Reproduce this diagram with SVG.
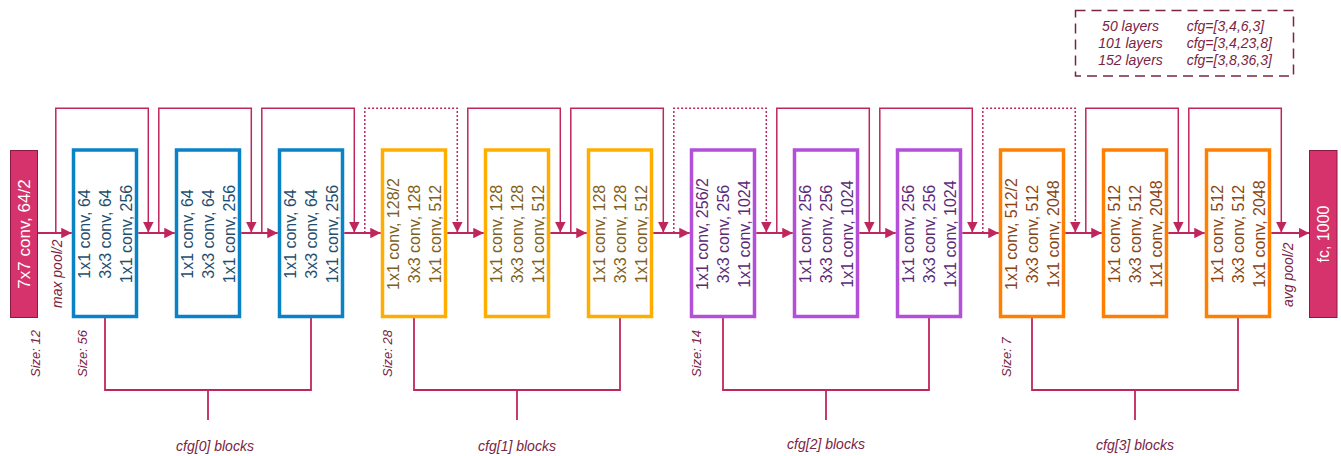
<svg xmlns="http://www.w3.org/2000/svg" width="1341" height="456" viewBox="0 0 1341 456">
<defs>
<marker id="ah" viewBox="0 0 10 10" markerWidth="10.5" markerHeight="10.5" refX="10" refY="5" orient="auto" markerUnits="userSpaceOnUse">
<path d="M0,0 L10,5 L0,10 z" fill="#c0265e"/>
</marker>
<style>
.bg{fill:#ffffff}
.main{fill:none;stroke:#c0265e;stroke-width:1.8}
.skip{fill:none;stroke:#c0265e;stroke-width:1.5}
.dot{fill:none;stroke:#c0265e;stroke-width:1.5;stroke-dasharray:2 2}
.br{fill:none;stroke:#c0265e;stroke-width:1.8}
.red{fill:#d6336c;stroke:#8a1c44;stroke-width:1}
.wt{font-family:"Liberation Sans",Arial,sans-serif;fill:#ffffff;text-anchor:middle}
.blk{fill:#ffffff;stroke-width:3.5}
.bt{font-family:"Liberation Sans",Arial,sans-serif;font-size:16px;text-anchor:middle}
.b1 rect{stroke:#0a83c6}.b1 text{fill:#1f4e6e}
.b2 rect{stroke:#ffae00}.b2 text{fill:#7f6020}
.b3 rect{stroke:#b34fd8}.b3 text{fill:#5b2b78}
.b4 rect{stroke:#ff7f00}.b4 text{fill:#8b4513}
.lab{font-family:"Liberation Sans",Arial,sans-serif;font-style:italic;fill:#7a2443}
.sz{font-size:13px}
.pl{font-size:14px}
.cf{font-size:14px;text-anchor:middle}
.lg{font-size:14px}
</style>
</defs>
<rect class="bg" x="0" y="0" width="1341" height="456"/>

<g id="connectors">
<path class="main" d="M38 233 H71.75" marker-end="url(#ah)"/>
<path class="main" d="M138.25 233 H174.75" marker-end="url(#ah)"/>
<path class="main" d="M241.25 233 H277.75" marker-end="url(#ah)"/>
<path class="main" d="M344.25 233 H380.75" marker-end="url(#ah)"/>
<path class="main" d="M447.25 233 H483.75" marker-end="url(#ah)"/>
<path class="main" d="M550.25 233 H586.75" marker-end="url(#ah)"/>
<path class="main" d="M653.25 233 H689.75" marker-end="url(#ah)"/>
<path class="main" d="M756.25 233 H792.75" marker-end="url(#ah)"/>
<path class="main" d="M859.25 233 H895.75" marker-end="url(#ah)"/>
<path class="main" d="M962.25 233 H998.75" marker-end="url(#ah)"/>
<path class="main" d="M1065.25 233 H1101.75" marker-end="url(#ah)"/>
<path class="main" d="M1168.25 233 H1204.75" marker-end="url(#ah)"/>
<path class="main" d="M1271.25 233 H1309.25" marker-end="url(#ah)"/>

<path class="skip" d="M55.8 233 V108.3 H148.3 V232.5" marker-end="url(#ah)"/>
<path class="skip" d="M158.8 233 V108.3 H251.3 V232.5" marker-end="url(#ah)"/>
<path class="skip" d="M261.8 233 V108.3 H354.3 V232.5" marker-end="url(#ah)"/>
<path class="dot" d="M364.8 233 V108.3 H457.3 V232.5" marker-end="url(#ah)"/>
<path class="skip" d="M467.8 233 V108.3 H560.3 V232.5" marker-end="url(#ah)"/>
<path class="skip" d="M570.8 233 V108.3 H663.3 V232.5" marker-end="url(#ah)"/>
<path class="dot" d="M673.8 233 V108.3 H766.3 V232.5" marker-end="url(#ah)"/>
<path class="skip" d="M776.8 233 V108.3 H869.3 V232.5" marker-end="url(#ah)"/>
<path class="skip" d="M879.8 233 V108.3 H972.3 V232.5" marker-end="url(#ah)"/>
<path class="dot" d="M982.8 233 V108.3 H1075.3 V232.5" marker-end="url(#ah)"/>
<path class="skip" d="M1085.8 233 V108.3 H1178.3 V232.5" marker-end="url(#ah)"/>
<path class="skip" d="M1188.8 233 V108.3 H1281.3 V232.5" marker-end="url(#ah)"/>

<path class="br" d="M105 318 V390 H311 V318 M208 390 V420"/>
<path class="br" d="M414 318 V390 H620 V318 M517 390 V420"/>
<path class="br" d="M723 318 V390 H929 V318 M826 390 V420"/>
<path class="br" d="M1032 318 V390 H1238 V318 M1135 390 V420"/>
</g>

<g id="conv7">
<rect class="red" x="10.5" y="150.5" width="27" height="167"/>
<text class="wt" font-size="17" transform="translate(29.5 234) rotate(-90)">7x7 conv, 64/2</text>
</g>

<g id="fc">
<rect class="red" x="1309.5" y="150.5" width="27.5" height="167"/>
<text class="wt" font-size="16" transform="translate(1329 234) rotate(-90)">fc, 1000</text>
</g>

<g id="block1" class="b1">
<rect class="blk" x="73.5" y="150" width="63" height="166.5"/>
<text class="bt" transform="translate(90 234) rotate(-90)">1x1 conv, 64</text>
<text class="bt" transform="translate(111 234) rotate(-90)">3x3 conv, 64</text>
<text class="bt" transform="translate(132 234) rotate(-90)">1x1 conv, 256</text>
</g>
<g id="block2" class="b1">
<rect class="blk" x="176.5" y="150" width="63" height="166.5"/>
<text class="bt" transform="translate(193 234) rotate(-90)">1x1 conv, 64</text>
<text class="bt" transform="translate(214 234) rotate(-90)">3x3 conv, 64</text>
<text class="bt" transform="translate(235 234) rotate(-90)">1x1 conv, 256</text>
</g>
<g id="block3" class="b1">
<rect class="blk" x="279.5" y="150" width="63" height="166.5"/>
<text class="bt" transform="translate(296 234) rotate(-90)">1x1 conv, 64</text>
<text class="bt" transform="translate(317 234) rotate(-90)">3x3 conv, 64</text>
<text class="bt" transform="translate(338 234) rotate(-90)">1x1 conv, 256</text>
</g>
<g id="block4" class="b2">
<rect class="blk" x="382.5" y="150" width="63" height="166.5"/>
<text class="bt" transform="translate(399 234) rotate(-90)">1x1 conv, 128/2</text>
<text class="bt" transform="translate(420 234) rotate(-90)">3x3 conv, 128</text>
<text class="bt" transform="translate(441 234) rotate(-90)">1x1 conv, 512</text>
</g>
<g id="block5" class="b2">
<rect class="blk" x="485.5" y="150" width="63" height="166.5"/>
<text class="bt" transform="translate(502 234) rotate(-90)">1x1 conv, 128</text>
<text class="bt" transform="translate(523 234) rotate(-90)">3x3 conv, 128</text>
<text class="bt" transform="translate(544 234) rotate(-90)">1x1 conv, 512</text>
</g>
<g id="block6" class="b2">
<rect class="blk" x="588.5" y="150" width="63" height="166.5"/>
<text class="bt" transform="translate(605 234) rotate(-90)">1x1 conv, 128</text>
<text class="bt" transform="translate(626 234) rotate(-90)">3x3 conv, 128</text>
<text class="bt" transform="translate(647 234) rotate(-90)">1x1 conv, 512</text>
</g>
<g id="block7" class="b3">
<rect class="blk" x="691.5" y="150" width="63" height="166.5"/>
<text class="bt" transform="translate(708 234) rotate(-90)">1x1 conv, 256/2</text>
<text class="bt" transform="translate(729 234) rotate(-90)">3x3 conv, 256</text>
<text class="bt" transform="translate(750 234) rotate(-90)">1x1 conv, 1024</text>
</g>
<g id="block8" class="b3">
<rect class="blk" x="794.5" y="150" width="63" height="166.5"/>
<text class="bt" transform="translate(811 234) rotate(-90)">1x1 conv, 256</text>
<text class="bt" transform="translate(832 234) rotate(-90)">3x3 conv, 256</text>
<text class="bt" transform="translate(853 234) rotate(-90)">1x1 conv, 1024</text>
</g>
<g id="block9" class="b3">
<rect class="blk" x="897.5" y="150" width="63" height="166.5"/>
<text class="bt" transform="translate(914 234) rotate(-90)">1x1 conv, 256</text>
<text class="bt" transform="translate(935 234) rotate(-90)">3x3 conv, 256</text>
<text class="bt" transform="translate(956 234) rotate(-90)">1x1 conv, 1024</text>
</g>
<g id="block10" class="b4">
<rect class="blk" x="1000.5" y="150" width="63" height="166.5"/>
<text class="bt" transform="translate(1017 234) rotate(-90)">1x1 conv, 512/2</text>
<text class="bt" transform="translate(1038 234) rotate(-90)">3x3 conv, 512</text>
<text class="bt" transform="translate(1059 234) rotate(-90)">1x1 conv, 2048</text>
</g>
<g id="block11" class="b4">
<rect class="blk" x="1103.5" y="150" width="63" height="166.5"/>
<text class="bt" transform="translate(1120 234) rotate(-90)">1x1 conv, 512</text>
<text class="bt" transform="translate(1141 234) rotate(-90)">3x3 conv, 512</text>
<text class="bt" transform="translate(1162 234) rotate(-90)">1x1 conv, 2048</text>
</g>
<g id="block12" class="b4">
<rect class="blk" x="1206.5" y="150" width="63" height="166.5"/>
<text class="bt" transform="translate(1223 234) rotate(-90)">1x1 conv, 512</text>
<text class="bt" transform="translate(1244 234) rotate(-90)">3x3 conv, 512</text>
<text class="bt" transform="translate(1265 234) rotate(-90)">1x1 conv, 2048</text>
</g>

<g id="labels">
<text class="lab pl" transform="translate(62 308) rotate(-90)">max pool/2</text>
<text class="lab pl" transform="translate(1292.5 307) rotate(-90)">avg pool/2</text>
<text class="lab sz" transform="translate(39.5 377) rotate(-90)">Size: 12</text>
<text class="lab sz" transform="translate(87 377) rotate(-90)">Size: 56</text>
<text class="lab sz" transform="translate(392 377) rotate(-90)">Size: 28</text>
<text class="lab sz" transform="translate(701 377) rotate(-90)">Size: 14</text>
<text class="lab sz" transform="translate(1011 377) rotate(-90)">Size: 7</text>
<text class="lab cf" x="215" y="451">cfg[0] blocks</text>
<text class="lab cf" x="517" y="451">cfg[1] blocks</text>
<text class="lab cf" x="826" y="449">cfg[2] blocks</text>
<text class="lab cf" x="1135" y="450">cfg[3] blocks</text>
</g>

<g id="legend">
<rect x="1075.5" y="10.5" width="218" height="65.5" fill="none" stroke="#7a2443" stroke-width="1.5" stroke-dasharray="10 6"/>
<text class="lab lg" x="1130.5" y="31" text-anchor="middle">50 layers</text>
<text class="lab lg" x="1130.5" y="48" text-anchor="middle">101 layers</text>
<text class="lab lg" x="1130.5" y="64.5" text-anchor="middle">152 layers</text>
<text class="lab lg" x="1186.7" y="31">cfg=[3,4,6,3]</text>
<text class="lab lg" x="1186.7" y="48">cfg=[3,4,23,8]</text>
<text class="lab lg" x="1186.7" y="64.5">cfg=[3,8,36,3]</text>
</g>
</svg>
